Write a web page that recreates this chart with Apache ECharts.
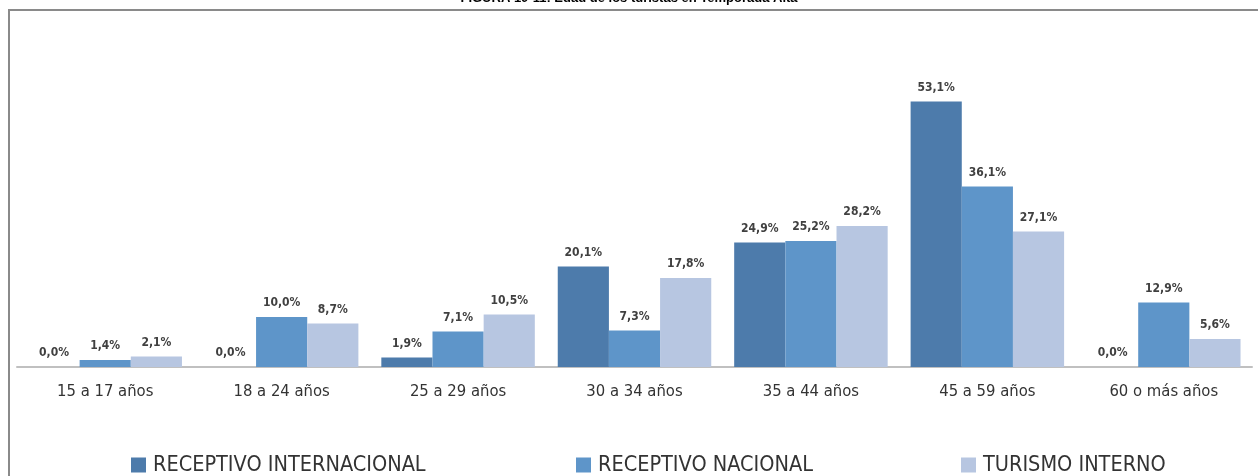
<!DOCTYPE html>
<html>
<head>
  <meta charset="utf-8">
  <title>Edad de los turistas en Temporada Alta</title>
  <style>
    html, body { margin: 0; padding: 0; background: #fff; }
    #main { width: 1258px; height: 476px; }
  </style>
</head>
<body>
  <div id="main"></div>
  <script src="https://cdn.jsdelivr.net/npm/echarts@6/dist/echarts.min.js"></script>
  <script>
  // categorías de edad
  const categories = ['15 a 17 años', '18 a 24 años', '25 a 29 años', '30 a 34 años',
    '35 a 44 años', '45 a 59 años', '60 o más años'];

  // porcentajes por tipo de turista
  const internacional = [0.0, 0.0, 1.9, 20.1, 24.9, 53.1, 0.0];
  const nacional = [1.4, 10.0, 7.1, 7.3, 25.2, 36.1, 12.9];
  const interno = [2.1, 8.7, 10.5, 17.8, 28.2, 27.1, 5.6];

  const seriesNames = ['RECEPTIVO INTERNACIONAL', 'RECEPTIVO NACIONAL', 'TURISMO INTERNO'];
  const colors = ['#4d7bab', '#5e95c9', '#b7c6e1'];
  const font = "'Liberation Sans Narrow', 'DejaVu Sans Condensed', sans-serif";

  const fmt = p => p.value.toFixed(1).replace('.', ',') + '%';

  const makeSeries = (name, data, i) => ({
    name: name,
    type: 'bar',
    data: data,
    barGap: 0,
    barCategoryGap: '13%',
    itemStyle: { color: colors[i] },
    label: {
      show: true,
      position: 'top',
      distance: 8,
      formatter: fmt,
      color: '#404040',
      fontFamily: font,
      fontWeight: 'bold',
      fontSize: 12
    }
  });

  const legendLefts = [126, 571, 956];

  var option = {
    animation: false,
    title: {
      text: 'FIGURA 10-11: Edad de los turistas en Temporada Alta',
      left: 'center',
      top: -13,
      textStyle: { fontFamily: 'Liberation Sans, Arial, sans-serif', fontSize: 13, fontWeight: 'bold', color: '#000' }
    },
    graphic: [{
      type: 'polyline',
      shape: { points: [[9, 476], [9, 10], [1258, 10]] },
      style: { stroke: '#8a8a8a', lineWidth: 2, fill: null }
    }],
    legend: seriesNames.map((n, i) => ({
      data: [n],
      left: legendLefts[i],
      top: 449,
      itemWidth: 15,
      itemHeight: 15,
      itemGap: 0,
      icon: 'rect',
      textStyle: { fontFamily: font, fontSize: 21.5, color: '#333', padding: [0, 0, 0, 2] }
    })),
    grid: { left: 17, right: 6, top: 67, bottom: 109 },
    xAxis: {
      type: 'category',
      data: categories,
      axisTick: { show: false },
      axisLine: { lineStyle: { color: '#c0c0c0', width: 2 } },
      axisLabel: { margin: 16, fontFamily: font, fontSize: 16.5, color: '#333' }
    },
    yAxis: {
      type: 'value',
      min: 0,
      max: 60,
      show: false,
      splitLine: { show: false }
    },
    series: [
      makeSeries(seriesNames[0], internacional, 0),
      makeSeries(seriesNames[1], nacional, 1),
      makeSeries(seriesNames[2], interno, 2)
    ]
  };

  echarts.init(document.getElementById('main')).setOption(option);
  </script>
</body>
</html>
